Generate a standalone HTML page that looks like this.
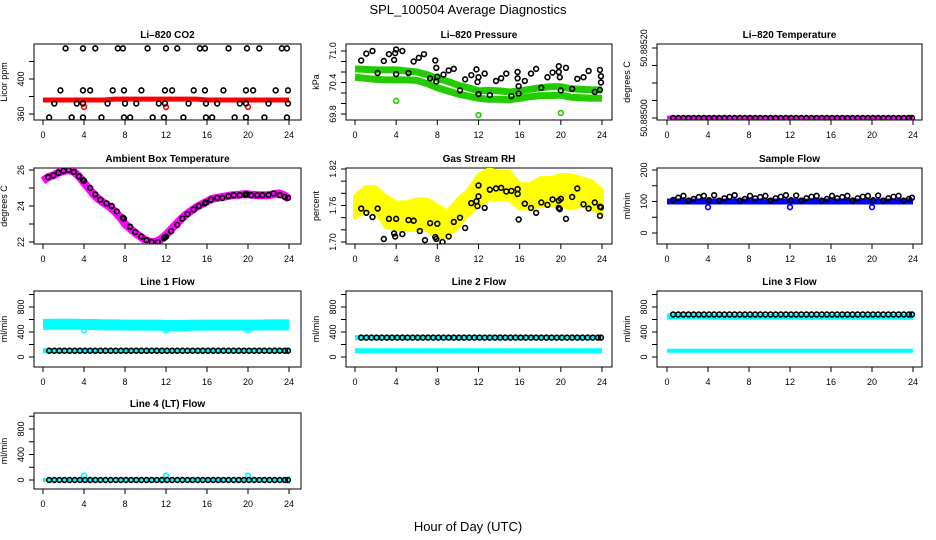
<!DOCTYPE html>
<html><head><meta charset="utf-8"><style>
html,body{margin:0;padding:0;background:#fff;}
svg{display:block;font-family:"Liberation Sans",Arial,sans-serif;}
</style></head><body>
<svg id="c" width="936" height="540" viewBox="0 0 936 540">
<text x="468" y="14" text-anchor="middle" font-size="13">SPL_100504  Average Diagnostics</text>
<text x="468" y="531" text-anchor="middle" font-size="13">Hour of Day (UTC)</text>
</svg>
<script>
// ---- data ----
const co2T=[2.2,3.9,5.1,7.3,7.8,10.2,12.0,13.1,15.3,15.8,18.1,19.9,21.1,23.3,23.8,1.7,3.9,4.6,6.8,7.9,9.6,11.9,12.6,14.7,15.8,17.6,19.8,20.5,22.7,23.9,1.1,3.3,3.9,6.3,8.0,9.1,11.3,11.9,14.2,15.9,17.0,19.2,19.8,22.0,23.9,0.6,2.8,3.9,5.7,7.9,8.5,10.7,11.8,13.7,15.9,16.5,18.7,19.8,21.6,23.8];
const co2V=[435,435,435,435,435,435,435,435,435,435,435,435,435,435,435,387,387,387,387,387,387,387,387,387,387,387,387,387,387,387,372,372,372,372,372,372,372,372,372,372,372,372,372,372,372,356,356,356,356,356,356,356,356,356,356,356,356,356,356,356];
const bandHours=[0,1,2,3,4,5,6,7,8,9,10,11,12,13,14,15,16,17,18,19,20,21,22,23,24];
const co2Band=[376,376,376,376,376,376,376,377,377,377,377,377,377,377,377,377,376,376,376,376,376,376,376,376,376];
const co2OutT=[4,12,20];
const co2OutV=[368,368,368];
const presT=[0.6,1.1,1.7,2.2,2.8,3.3,3.8,3.9,4.0,4.0,4.6,5.2,5.7,6.2,6.7,7.3,7.8,7.9,7.9,8.0,8.6,9.1,9.6,10.2,10.7,11.3,11.8,11.9,12.0,12.0,12.6,13.1,13.7,14.2,14.7,15.2,15.8,15.8,15.9,15.9,16.5,17.1,17.6,18.1,18.7,19.2,19.8,19.8,19.9,20.0,20.5,21.1,21.6,22.2,22.7,23.3,23.8,23.8,23.9,23.9];
const presV=[70.82,70.95,71.0,70.58,70.81,70.94,70.83,70.96,71.03,70.56,71.0,70.58,70.8,70.87,70.94,70.48,70.82,70.68,70.42,70.51,70.55,70.63,70.66,70.25,70.46,70.54,70.65,70.41,70.5,70.18,70.57,70.16,70.43,70.48,70.57,70.14,70.6,70.48,70.19,70.33,70.43,70.57,70.66,70.3,70.5,70.59,70.6,70.71,70.5,70.25,70.68,70.28,70.47,70.5,70.62,70.22,70.64,70.26,70.52,70.4];
const presBandHi=[70.66,70.65,70.64,70.64,70.64,70.62,70.6,70.55,70.48,70.42,70.35,70.3,70.24,70.25,70.24,70.22,70.24,70.27,70.3,70.32,70.32,70.28,70.27,70.26,70.26];
const presBandLo=[70.5,70.48,70.46,70.45,70.45,70.45,70.44,70.38,70.3,70.24,70.18,70.14,70.1,70.08,70.08,70.07,70.1,70.13,70.15,70.15,70.16,70.12,70.11,70.1,70.1];
const presOutT=[4,12,20];
const presOutV=[70.05,69.78,69.82];
const tempT=[0.6,1.1,1.6,2.1,2.6,3.1,3.6,4.1,4.6,5.1,5.6,6.1,6.6,7.1,7.6,8.1,8.6,9.1,9.6,10.1,10.6,11.1,11.6,12.1,12.6,13.1,13.6,14.1,14.6,15.1,15.6,16.1,16.6,17.1,17.6,18.1,18.6,19.1,19.6,20.1,20.6,21.1,21.6,22.1,22.6,23.1,23.6,23.9];
const tempV=[50.885,50.885,50.885,50.885,50.885,50.885,50.885,50.885,50.885,50.885,50.885,50.885,50.885,50.885,50.885,50.885,50.885,50.885,50.885,50.885,50.885,50.885,50.885,50.885,50.885,50.885,50.885,50.885,50.885,50.885,50.885,50.885,50.885,50.885,50.885,50.885,50.885,50.885,50.885,50.885,50.885,50.885,50.885,50.885,50.885,50.885,50.885,50.885];
const tempBand=[50.885,50.885,50.885,50.885,50.885,50.885,50.885,50.885,50.885,50.885,50.885,50.885,50.885,50.885,50.885,50.885,50.885,50.885,50.885,50.885,50.885,50.885,50.885,50.885,50.885];
const tempOutT=[0.5];
const tempOutV=[50.88522];
const ambHours=[0,0.5,1,1.5,2,2.5,3,3.5,4,4.5,5,5.5,6,6.5,7,7.5,8,8.5,9,9.5,10,10.5,11,11.5,12,12.5,13,13.5,14,14.5,15,15.5,16,16.5,17,17.5,18,18.5,19,19.5,20,20.5,21,21.5,22,22.5,23,23.5,24];
const ambBand=[25.4,25.6,25.7,25.85,25.95,26.0,25.9,25.65,25.3,24.95,24.6,24.35,24.15,23.95,23.7,23.4,23.0,22.75,22.5,22.3,22.1,22.0,22.0,22.15,22.4,22.7,23.0,23.3,23.55,23.75,23.95,24.1,24.25,24.4,24.45,24.5,24.55,24.6,24.62,24.65,24.65,24.62,24.6,24.6,24.6,24.65,24.7,24.6,24.4];
const ambT=[0.5,1.0,1.5,2.0,2.5,3.0,3.5,3.9,4.0,4.6,5.1,5.6,6.2,6.7,7.2,7.8,7.9,8.5,9.0,9.6,10.1,10.6,11.2,11.8,11.9,12.0,12.5,13.1,13.6,14.1,14.7,15.2,15.8,15.9,16.4,17.0,17.5,18.1,18.6,19.2,19.7,19.8,19.9,20.3,20.9,21.4,22.0,22.5,23.1,23.6,23.9];
const ambV=[25.6,25.7,25.85,25.95,26.0,25.9,25.65,25.45,25.4,25.0,24.65,24.35,24.15,24.0,23.7,23.35,23.3,22.85,22.55,22.3,22.1,22.0,22.0,22.2,22.25,22.3,22.6,22.95,23.3,23.55,23.8,24.0,24.15,24.2,24.35,24.45,24.45,24.55,24.6,24.6,24.62,24.65,24.65,24.6,24.6,24.6,24.62,24.7,24.6,24.5,24.45];
const rhT=[0.6,1.1,1.7,2.2,2.8,3.3,3.8,3.9,4.0,4.6,5.2,5.7,6.3,6.8,7.3,7.8,7.9,8.0,8.5,9.1,9.6,10.2,10.7,11.3,11.8,11.9,12.0,12.0,12.6,13.1,13.7,14.2,14.7,15.2,15.8,15.8,15.9,16.5,17.1,17.6,18.1,18.7,19.2,19.8,19.8,19.9,20.0,20.5,21.1,21.6,22.2,22.7,23.3,23.8,23.9,23.8];
const rhV=[1.755,1.748,1.741,1.755,1.705,1.738,1.714,1.709,1.738,1.713,1.736,1.735,1.718,1.703,1.731,1.708,1.705,1.73,1.70,1.709,1.733,1.74,1.723,1.764,1.767,1.759,1.793,1.775,1.756,1.786,1.788,1.789,1.783,1.784,1.779,1.787,1.737,1.763,1.756,1.748,1.765,1.761,1.770,1.756,1.768,1.754,1.771,1.738,1.774,1.788,1.762,1.755,1.765,1.743,1.757,1.758];
const rhUpper=[1.775,1.79,1.79,1.775,1.765,1.765,1.77,1.77,1.76,1.75,1.77,1.785,1.81,1.82,1.815,1.815,1.795,1.795,1.805,1.805,1.81,1.81,1.805,1.80,1.785];
const rhLower=[1.74,1.75,1.75,1.725,1.72,1.72,1.72,1.72,1.705,1.71,1.725,1.745,1.76,1.77,1.77,1.77,1.755,1.755,1.76,1.76,1.76,1.755,1.76,1.755,1.745];
const flowT=[0.6,1.1,1.6,2.1,2.6,3.1,3.6,4.1,4.6,5.1,5.6,6.1,6.6,7.1,7.6,8.1,8.6,9.1,9.6,10.1,10.6,11.1,11.6,12.1,12.6,13.1,13.6,14.1,14.6,15.1,15.6,16.1,16.6,17.1,17.6,18.1,18.6,19.1,19.6,20.1,20.6,21.1,21.6,22.1,22.6,23.1,23.6,23.9];
const sampleV=[105,112,118,103,108,114,118,104,120,103,110,115,120,103,108,118,110,114,118,103,110,115,120,104,119,103,110,115,118,103,108,118,110,114,118,103,110,115,118,104,119,103,110,115,118,103,108,112];
const sampleBand=[100,100,100,100,100,100,100,100,100,100,100,100,100,100,100,100,100,100,100,100,100,100,100,100,100];
const sampleOutT=[4,12,20];
const sampleOutV=[82,82,82];
const line1Hi=[520,525,525,525,520,520,515,515,510,510,510,510,505,505,505,510,510,510,510,510,510,510,515,515,515];
const line1Lo=[100,100,100,100,100,100,100,100,100,100,100,100,100,100,100,100,100,100,100,100,100,100,100,100,100];
const line1Black=[100,100,100,100,100,100,100,100,100,100,100,100,100,100,100,100,100,100,100,100,100,100,100,100,100,100,100,100,100,100,100,100,100,100,100,100,100,100,100,100,100,100,100,100,100,100,100,100];
const line2Hi=[310,310,310,310,310,310,310,310,310,310,310,310,310,310,310,310,310,310,310,310,310,310,310,310,310];
const line2Lo=[100,100,100,100,100,100,100,100,100,100,100,100,100,100,100,100,100,100,100,100,100,100,100,100,100];
const line2Black=[310,310,310,310,310,310,310,310,310,310,310,310,310,310,310,310,310,310,310,310,310,310,310,310,310,310,310,310,310,310,310,310,310,310,310,310,310,310,310,310,310,310,310,310,310,310,310,310];
const line3Hi=[650,650,650,650,645,645,645,645,645,645,645,645,645,645,645,645,645,645,645,645,645,645,645,645,645];
const line3Lo=[100,100,100,100,100,100,100,100,100,100,100,100,100,100,100,100,100,100,100,100,100,100,100,100,100];
const line3Black=[680,680,680,680,680,680,680,680,680,680,680,680,680,680,680,680,680,680,680,680,680,680,680,680,680,680,680,680,680,680,680,680,680,680,680,680,680,680,680,680,680,680,680,680,680,680,680,680];
const line4Hi=[0,0,0,0,0,0,0,0,0,0,0,0,0,0,0,0,0,0,0,0,0,0,0,0,0];
const line4Black=[0,0,0,0,0,0,0,0,0,0,0,0,0,0,0,0,0,0,0,0,0,0,0,0,0,0,0,0,0,0,0,0,0,0,0,0,0,0,0,0,0,0,0,0,0,0,0,0];
const flowOutT=[4,12,20];
const line1OutV=[430,430,430];
const line4OutV=[70,70,70];
const xTicks=[0,4,8,12,16,20,24];

// ---- layout ----
const NS='http://www.w3.org/2000/svg';
const svg=document.getElementById('c');
const cols=[{bl:34,br:301,x0:43,x24:289},{bl:346,br:612,x0:355,x24:602},{bl:657,br:922,x0:667,x24:913}];
const rows=[{t:44,b:120},{t:168,b:244},{t:291,b:367},{t:413,b:489}];
function mk(tag,attrs,parent){const e=document.createElementNS(NS,tag);for(const k in attrs)e.setAttribute(k,attrs[k]);(parent||svg).appendChild(e);return e;}

function panel(name,title,ylab,c,r,ya,yb,ticks,labels){
  const C=cols[c],R=rows[r];
  const g=mk('g',{});
  
  
  const xs=v=>C.x0+v*(C.x24-C.x0)/24;
  const ys=v=>ya[1]+(v-ya[0])*(yb[1]-ya[1])/(yb[0]-ya[0]);
  const t=mk('text',{x:(C.bl+C.br)/2,y:R.t-6,'text-anchor':'middle','font-size':10,'font-weight':'bold'},g);
  t.textContent=title;
  
  
  const box=mk('rect',{x:C.bl,y:R.t,width:C.br-C.bl,height:R.b-R.t,fill:'none',stroke:'#000','stroke-width':1},g);
  
  
  const xa=mk('g',{},g);
  
  
  mk('line',{x1:xs(0),x2:xs(24),y1:R.b,y2:R.b,stroke:'#000'},xa);
  xTicks.forEach(v=>{
    mk('line',{x1:xs(v),x2:xs(v),y1:R.b,y2:R.b+5,stroke:'#000'},xa);
    const l=mk('text',{x:xs(v),y:R.b+18,'text-anchor':'middle','font-size':9},xa);
    l.textContent=v;
    
    
  });
  const yax=mk('g',{},g);
  
  
  mk('line',{x1:C.bl,x2:C.bl,y1:ys(ticks[0]),y2:ys(ticks[ticks.length-1]),stroke:'#000'},yax);
  ticks.forEach(v=>mk('line',{x1:C.bl-5,x2:C.bl,y1:ys(v),y2:ys(v),stroke:'#000'},yax));
  labels.forEach(v=>{
    const y=ys(+v),x=C.bl-10;
    const l=mk('text',{x:x,y:y,'text-anchor':'middle','font-size':9,transform:`rotate(-90 ${x} ${y})`},yax);
    l.textContent=v;
    
    
  });
  const yl=C.bl-27,ym=(R.t+R.b)/2;
  const tl=mk('text',{x:yl,y:ym,'text-anchor':'middle','font-size':9,transform:`rotate(-90 ${yl} ${ym})`},g);
  tl.textContent=ylab;
  
  
  const clip='clip'+name;
  const cp=mk('clipPath',{id:clip},g);mk('rect',{x:C.bl,y:R.t,width:C.br-C.bl,height:R.b-R.t},cp);
  const d=mk('g',{'clip-path':`url(#${clip})`},g);
  return {xs,ys,d};
}
function band(p,hrs,vals,color,w,name){
  const pts=hrs.map((h,i)=>p.xs(h)+','+p.ys(vals[i])).join(' ');
  const e=mk('polyline',{points:pts,fill:'none',stroke:color,'stroke-width':w,'stroke-linejoin':'round','stroke-linecap':'butt'},p.d);
  
  
}
function area(p,hrs,hi,lo,color,name){
  const a=hrs.map((h,i)=>p.xs(h)+','+p.ys(hi[i]));
  const b=hrs.map((h,i)=>p.xs(h)+','+p.ys(lo[i])).reverse();
  const e=mk('polygon',{points:a.concat(b).join(' '),fill:color,stroke:color,'stroke-width':4,'stroke-linejoin':'round'},p.d);
  
  
}
function pts(p,T,V,color,name){
  T.forEach((h,i)=>{
    const e=mk('circle',{cx:p.xs(h),cy:p.ys(V[i]),r:2.4,fill:'none',stroke:color,'stroke-width':1.6},p.d);
    
    
  });
}

let p=panel('co2','Li\u2013820 CO2','Licor ppm',0,0,[360,114],[400,79],[360,380,400,420],['360','400']);
band(p,bandHours,co2Band,'#f00',5,'co2-band');
pts(p,co2OutT,co2OutV,'#f00','co2-outlier');
pts(p,co2T,co2V,'#000','co2-point');

p=panel('pressure','Li\u2013820 Pressure','kPa',1,0,[69.8,114],[71.0,51],[69.8,70.0,70.2,70.4,70.6,70.8,71.0],['69.8','70.4','71.0']);
band(p,bandHours,presBandHi,'#22cc00',7,'pressure-band-upper');
band(p,bandHours,presBandLo,'#22cc00',7,'pressure-band-lower');
pts(p,presOutT,presOutV,'#22cc00','pressure-outlier');
pts(p,presT,presV,'#000','pressure-point');

p=panel('li820-temp','Li\u2013820 Temperature','degrees C',2,0,[50.885,118],[50.8852,48],[50.885,50.88505,50.8851,50.88515,50.8852],['50.88500','50.88520']);
band(p,bandHours,tempBand,'#f0f',5,'li820-temp-band');
pts(p,tempOutT,tempOutV,'#f0f','li820-temp-outlier');
pts(p,tempT,tempV,'#000','li820-temp-point');

p=panel('ambient','Ambient Box Temperature','degrees C',0,1,[22,242],[26,170],[22,23,24,25,26],['22','24','26']);
band(p,ambHours,ambBand,'#f0f',8,'ambient-band');
pts(p,ambT,ambV,'#000','ambient-point');

p=panel('rh','Gas Stream RH','percent',1,1,[1.70,242],[1.82,169],[1.70,1.72,1.74,1.76,1.78,1.80,1.82],['1.70','1.76','1.82']);
area(p,bandHours,rhUpper,rhLower,'#ffff00','rh-band');
pts(p,rhT,rhV,'#000','rh-point');

p=panel('sample-flow','Sample Flow','ml/min',2,1,[0,233],[200,170],[0,50,100,150,200],['0','100','200']);
band(p,bandHours,sampleBand,'#0000ff',6,'sample-flow-band');
pts(p,sampleOutT,sampleOutV,'#0000ff','sample-flow-outlier');
pts(p,flowT,sampleV,'#000','sample-flow-point');

const flowTicks=[0,200,400,600,800,1000],flowLabels=['0','400','800'];
p=panel('line1','Line 1 Flow','ml/min',0,2,[0,357],[800,307],flowTicks,flowLabels);
band(p,bandHours,line1Hi,'#00ffff',11,'line1-band-high');
band(p,bandHours,line1Lo,'#00ffff',5,'line1-band-low');
pts(p,flowOutT,line1OutV,'#00ffff','line1-outlier');
pts(p,flowT,line1Black,'#000','line1-point');

p=panel('line2','Line 2 Flow','ml/min',1,2,[0,357],[800,307],flowTicks,flowLabels);
band(p,bandHours,line2Hi,'#00ffff',5,'line2-band-high');
band(p,bandHours,line2Lo,'#00ffff',5,'line2-band-low');
pts(p,flowT,line2Black,'#000','line2-point');

p=panel('line3','Line 3 Flow','ml/min',2,2,[0,357],[800,307],flowTicks,flowLabels);
band(p,bandHours,line3Hi,'#00ffff',6,'line3-band-high');
band(p,bandHours,line3Lo,'#00ffff',4,'line3-band-low');
pts(p,flowT,line3Black,'#000','line3-point');

p=panel('line4','Line 4 (LT) Flow','ml/min',0,3,[0,480],[800,429],flowTicks,flowLabels);
band(p,bandHours,line4Hi,'#00ffff',4,'line4-band');
pts(p,flowOutT,line4OutV,'#00ffff','line4-outlier');
pts(p,flowT,line4Black,'#000','line4-point');
</script>
</body></html>
